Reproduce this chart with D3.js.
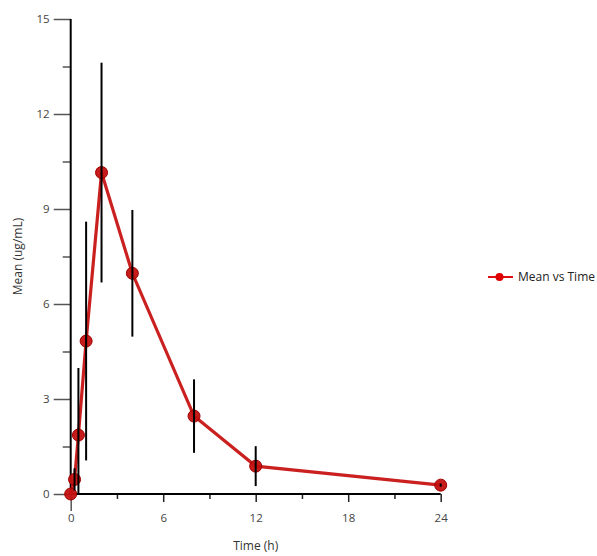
<!DOCTYPE html>
<html><head><meta charset="utf-8">
<script src="https://cdn.jsdelivr.net/npm/d3@7"></script>
<style>body{margin:0;background:#fff}svg{display:block}</style>
</head><body>
<svg id="c" width="597" height="556"></svg>
<script>
const times = [0, 0.25, 0.5, 1, 2, 4, 8, 12, 24];
const means = [0, 0.46, 1.86, 4.83, 10.15, 6.97, 2.46, 0.88, 0.28];
const sds   = [0, 0.35, 2.12, 3.77, 3.47, 2.0, 1.16, 0.63, 0.05];
const xMajor = [0, 6, 12, 18, 24];
const xMinor = [3, 9, 15, 21];
const yMajor = [0, 3, 6, 9, 12, 15];
const yMinor = [1.5, 4.5, 7.5, 10.5, 13.5];
const seriesName = "Mean vs Time";
const xTitle = "Time (h)";
const yTitle = "Mean (ug/mL)";

const svg = d3.select("#c");
const x = d3.scaleLinear().domain([0, 24]).range([70.7, 440.7]);
const y = d3.scaleLinear().domain([0, 15]).range([494, 19]);
const font = "'Open Sans', 'Noto Sans', sans-serif";
const tickCol = "#555";

// y axis
const gy = svg.append("g").attr("transform", `translate(${x(0)},0)`);
gy.append("g").call(d3.axisLeft(y).tickValues(yMajor).tickSize(17).tickFormat(d3.format("d")))
  .call(g => g.select(".domain").remove())
  .call(g => g.selectAll("line").attr("stroke", tickCol).attr("stroke-width", 1.5))
  .call(g => g.selectAll("text").attr("fill", "#444").attr("font-family", font).attr("font-size", 11.5).attr("dx", -1));
gy.append("g").call(d3.axisLeft(y).tickValues(yMinor).tickSize(8).tickFormat(""))
  .call(g => g.select(".domain").remove())
  .call(g => g.selectAll("line").attr("stroke", tickCol).attr("stroke-width", 1.5));
gy.append("line").attr("x1", 0).attr("x2", 0).attr("y1", y(15)).attr("y2", y(0))
  .attr("stroke", "#000").attr("stroke-width", 2);

// x axis
const gx = svg.append("g").attr("transform", `translate(0,${y(0)})`);
gx.append("g").call(d3.axisBottom(x).tickValues(xMajor).tickSize(8).tickPadding(12).tickFormat(d3.format("d")))
  .call(g => g.select(".domain").remove())
  .call(g => g.selectAll("line").attr("stroke-width", 1.5)
     .attr("y2", d => d === 0 ? 17 : 8).attr("stroke", d => d === 0 ? tickCol : "#222"))
  .call(g => g.selectAll("text").attr("fill", "#444").attr("font-family", font).attr("font-size", 11.5));
gx.append("g").call(d3.axisBottom(x).tickValues(xMinor).tickSize(5).tickFormat(""))
  .call(g => g.select(".domain").remove())
  .call(g => g.selectAll("line").attr("stroke", "#222").attr("stroke-width", 1.5));
gx.append("line").attr("x1", x(0)).attr("x2", x(24)).attr("y1", 0).attr("y2", 0)
  .attr("stroke", "#000").attr("stroke-width", 2);

// titles
svg.append("text").attr("x", (x(0) + x(24)) / 2).attr("y", 550).attr("text-anchor", "middle")
  .attr("font-family", font).attr("font-size", 12).attr("fill", "#333").text(xTitle);
svg.append("text").attr("transform", `translate(22,${(y(0) + y(15)) / 2}) rotate(-90)`)
  .attr("text-anchor", "middle").attr("font-family", font).attr("font-size", 12).attr("fill", "#333").text(yTitle);

const data = times.map((t, i) => ({t, m: means[i], s: sds[i]}));
const clamp = v => Math.max(0, Math.min(15, v));

// line
svg.append("path").datum(data)
  .attr("d", d3.line().x(d => x(d.t)).y(d => y(d.m)))
  .attr("fill", "none").attr("stroke", "#c81414").attr("stroke-width", 3.2).attr("stroke-opacity", 0.95);

// markers
svg.append("g").selectAll("circle").data(data).join("circle")
  .attr("cx", d => x(d.t)).attr("cy", d => y(d.m)).attr("r", 6)
  .attr("fill", "#c41010").attr("stroke", "#a00000").attr("stroke-width", 1).attr("fill-opacity", 0.95);

// error bars (drawn above markers)
svg.append("g").selectAll("line").data(data.filter(d => d.s > 0)).join("line")
  .attr("x1", d => x(d.t)).attr("x2", d => x(d.t))
  .attr("y1", d => y(clamp(d.m + d.s))).attr("y2", d => y(clamp(d.m - d.s)))
  .attr("stroke", "#000").attr("stroke-width", 2);

// legend
const lg = svg.append("g").attr("transform", "translate(488,277)");
lg.append("line").attr("x1", 0).attr("x2", 25).attr("y1", 0).attr("y2", 0).attr("stroke", "#e01010").attr("stroke-width", 2);
lg.append("circle").attr("cx", 11.5).attr("cy", 0).attr("r", 4).attr("fill", "#e00000");
lg.append("text").attr("x", 30).attr("y", 4).attr("font-family", font).attr("font-size", 12).attr("fill", "#222").text(seriesName);
</script>
</body></html>
